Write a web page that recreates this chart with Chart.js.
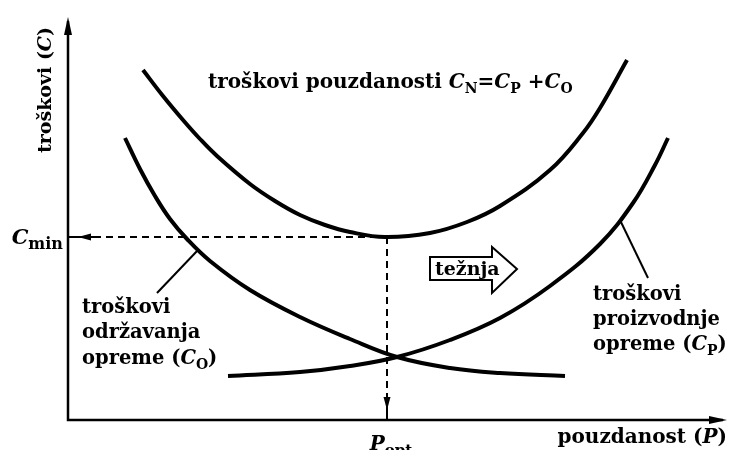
<!DOCTYPE html>
<html><head><meta charset="utf-8">
<script src="https://cdn.jsdelivr.net/npm/chart.js@4/dist/chart.umd.min.js"></script>
<style>html,body{margin:0;padding:0;background:#fff}#wrap{width:729px;height:450px}</style>
</head><body><div id="wrap"><canvas id="c" width="729" height="450"></canvas></div>
<script>
// Conceptual curves (arbitrary units: P along x, C along y)
const cnP = [75,95,115,132,149,182,207,232,257,282,317,362,399,432,482,515,532,559];
const cnC = [350,324,300,281,264,236,219,205,195,188,183,187,198,214,250,287,312,360];
const coP = [57,72,87,102,119,142,182,232,282,329,382,432,497];
const coC = [282,251,224,201,181,159,130,103,81,63,52,47,44];
const cpP = [160,232,282,329,382,432,482,532,565,587,600];
const cpC = [44,48,54,63,80,102,134,176,217,255,282];
const P_OPT = 319;
const C_MIN = 183;
const P_MAX = 659;
const C_MAX = 403;

const FONT = '"DejaVu Serif", serif';
const toPts = (xs, ys) => xs.map((x, i) => ({x: x, y: ys[i]}));

const curve = (data) => ({data, showLine: true, borderColor: '#000', borderWidth: 4,
  pointRadius: 0, tension: 0.4, fill: false});
const dashed = (data) => ({data, showLine: true, borderColor: '#000', borderWidth: 2,
  borderDash: [7, 5], pointRadius: 0, tension: 0, fill: false});
const thin = (data) => ({data, showLine: true, borderColor: '#000', borderWidth: 2,
  pointRadius: 0, tension: 0, fill: false});

function styleFont(s, F) {
  switch (s) {
    case 'i': return `italic bold ${F}px ${FONT}`;
    case 's': return `bold ${Math.round(F * 0.7)}px ${FONT}`;
    case 'sb': return `bold ${Math.round(F * 0.75)}px ${FONT}`;
    default: return `bold ${F}px ${FONT}`;
  }
}
function runsWidth(ctx, runs, F) {
  let w = 0;
  for (const r of runs) { ctx.font = styleFont(r[1], F); w += ctx.measureText(r[0]).width; }
  return w;
}
function drawRuns(ctx, runs, x, y, F, align) {
  const w = runsWidth(ctx, runs, F);
  let cx = align === 'center' ? x - w / 2 : align === 'right' ? x - w : x;
  ctx.textAlign = 'left'; ctx.textBaseline = 'alphabetic'; ctx.fillStyle = '#000';
  for (const r of runs) {
    ctx.font = styleFont(r[1], F);
    const dy = (r[1] === 's' || r[1] === 'sb') ? F * 0.25 : 0;
    ctx.fillText(r[0], cx, y + dy);
    cx += ctx.measureText(r[0]).width;
  }
}
function arrowHead(ctx, tx, ty, dx, dy, len, hw) {
  const bx = tx - dx * len, by = ty - dy * len;
  ctx.beginPath();
  ctx.moveTo(tx, ty);
  ctx.lineTo(bx - dy * hw, by + dx * hw);
  ctx.lineTo(bx + dy * hw, by - dx * hw);
  ctx.closePath(); ctx.fill();
}

const deco = {
  id: 'deco',
  beforeDatasetsDraw(chart) {
    const ctx = chart.ctx;
    const X = v => chart.scales.x.getPixelForValue(v), Y = v => chart.scales.y.getPixelForValue(v);
    ctx.save();
    ctx.strokeStyle = '#000'; ctx.fillStyle = '#000'; ctx.lineWidth = 2.5;
    ctx.beginPath();
    ctx.moveTo(X(0), Y(C_MAX) + 4); ctx.lineTo(X(0), Y(0)); ctx.lineTo(X(P_MAX) - 4, Y(0));
    ctx.stroke();
    arrowHead(ctx, X(0), Y(C_MAX), 0, -1, 18, 4);
    arrowHead(ctx, X(P_MAX), Y(0), 1, 0, 18, 4);
    ctx.restore();
  },
  afterDatasetsDraw(chart) {
    const ctx = chart.ctx;
    const X = v => chart.scales.x.getPixelForValue(v), Y = v => chart.scales.y.getPixelForValue(v);
    ctx.save();
    ctx.strokeStyle = '#000'; ctx.fillStyle = '#000';
    // arrow heads on the dashed guides
    ctx.lineWidth = 2;
    ctx.beginPath(); ctx.moveTo(X(0), Y(C_MIN)); ctx.lineTo(X(26), Y(C_MIN)); ctx.stroke();
    arrowHead(ctx, X(10), Y(C_MIN), -1, 0, 13, 3.5);
    ctx.beginPath(); ctx.moveTo(X(P_OPT), Y(0)); ctx.lineTo(X(P_OPT), Y(26)); ctx.stroke();
    arrowHead(ctx, X(P_OPT), Y(10), 0, 1, 13, 3.5);

    // "težnja" block arrow
    ctx.lineWidth = 2;
    ctx.beginPath();
    ctx.moveTo(X(362), Y(163)); ctx.lineTo(X(424), Y(163)); ctx.lineTo(X(424), Y(173));
    ctx.lineTo(X(449), Y(151)); ctx.lineTo(X(424), Y(127)); ctx.lineTo(X(424), Y(140));
    ctx.lineTo(X(362), Y(140)); ctx.closePath();
    ctx.fillStyle = '#fff'; ctx.fill(); ctx.stroke();
    drawRuns(ctx, [['težnja', 'n']], X(367), Y(145), 19, 'left');

    // texts
    drawRuns(ctx, [['troškovi pouzdanosti ', 'n'], ['C', 'i'], ['N', 's'], ['=', 'n'], ['C', 'i'], ['P', 's'], [' +', 'n'], ['C', 'i'], ['O', 's']], X(140), Y(332), 20, 'left');
    drawRuns(ctx, [['troškovi', 'n']], X(14), Y(107), 19.5, 'left');
    drawRuns(ctx, [['održavanja', 'n']], X(14), Y(82), 19.5, 'left');
    drawRuns(ctx, [['opreme (', 'n'], ['C', 'i'], ['O', 's'], [')', 'n']], X(14), Y(56), 19.5, 'left');
    drawRuns(ctx, [['troškovi', 'n']], X(525), Y(120), 19.5, 'left');
    drawRuns(ctx, [['proizvodnje', 'n']], X(525), Y(95), 19.5, 'left');
    drawRuns(ctx, [['opreme (', 'n'], ['C', 'i'], ['P', 's'], [')', 'n']], X(525), Y(70), 19.5, 'left');
    drawRuns(ctx, [['pouzdanost (', 'n'], ['P', 'i'], [')', 'n']], X(P_MAX), Y(-23), 20, 'right');
    drawRuns(ctx, [['P', 'i'], ['opt', 'sb']], X(P_OPT + 4), Y(-30), 20, 'center');
    drawRuns(ctx, [['C', 'i'], ['min', 'sb']], X(-5), Y(C_MIN - 7), 21, 'right');
    // rotated y-axis title
    ctx.save();
    ctx.translate(X(-17), Y(330));
    ctx.rotate(-Math.PI / 2);
    drawRuns(ctx, [['troškovi (', 'n'], ['C', 'i'], [')', 'n']], 0, 0, 19, 'center');
    ctx.restore();
    ctx.restore();
  }
};

new Chart(document.getElementById('c'), {
  type: 'scatter',
  data: {
    datasets: [
      curve(toPts(cnP, cnC)),
      curve(toPts(coP, coC)),
      curve(toPts(cpP, cpC)),
      dashed([{x: 26, y: C_MIN}, {x: P_OPT, y: C_MIN}]),
      dashed([{x: P_OPT, y: C_MIN}, {x: P_OPT, y: 26}]),
      thin([{x: 89, y: 127}, {x: 130, y: 170}]),
      thin([{x: 552, y: 200}, {x: 580, y: 142}])
    ]
  },
  options: {
    responsive: false, animation: false, events: [],
    layout: {padding: {left: 68, right: 2, top: 17, bottom: 30}},
    scales: {
      x: {type: 'linear', display: false, min: 0, max: P_MAX},
      y: {type: 'linear', display: false, min: 0, max: C_MAX}
    },
    plugins: {legend: {display: false}, tooltip: {enabled: false}, title: {display: false}}
  },
  plugins: [deco]
});
</script></body></html>
